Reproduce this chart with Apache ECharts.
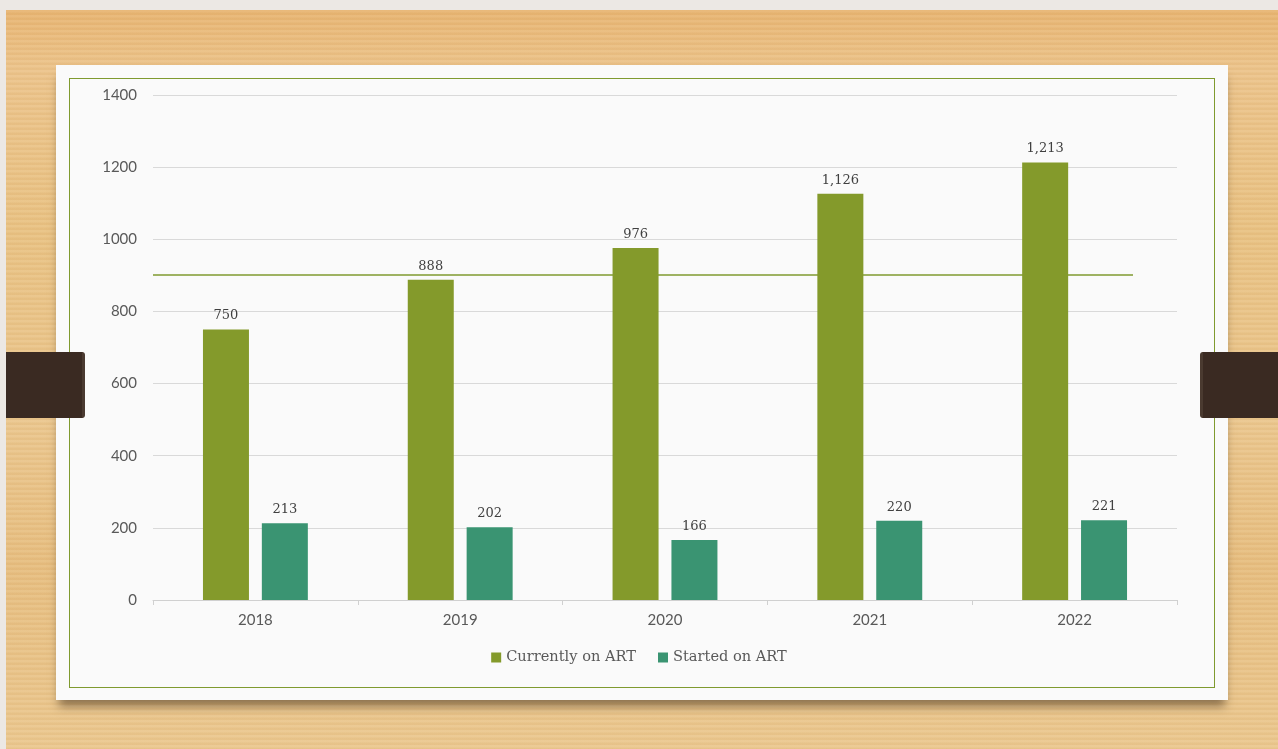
<!DOCTYPE html>
<html>
<head>
<meta charset="utf-8">
<script src="https://cdn.jsdelivr.net/npm/echarts@6/dist/echarts.min.js"></script>
<style>
  html, body { margin: 0; padding: 0; width: 1278px; height: 749px; overflow: hidden; }
  body {
    position: relative;
    background: #ece8e4;
  }
  .wood {
    position: absolute; left: 6px; top: 10px; right: 0; bottom: 0;
    background:
      repeating-linear-gradient(180deg, rgba(255,255,255,0.06) 0px, rgba(255,255,255,0.06) 2px, rgba(160,100,40,0.05) 3px, rgba(160,100,40,0.05) 5px),
      linear-gradient(180deg, #e8b572 0%, #ecc48b 8%, #e9c283 30%, #ebc78e 55%, #e7be80 75%, #ebc88f 100%);
  }
  .card {
    position: absolute; left: 56px; top: 65px; width: 1172px; height: 635px;
    background: #fafafa;
    box-shadow: 0 9px 9px -3px rgba(60,40,20,0.55);
  }
  .frame {
    position: absolute; left: 69px; top: 78px; width: 1144px; height: 608px;
    border: 1.5px solid #7f9a2f;
  }
  .tab {
    position: absolute; top: 352px; height: 66px; width: 76px;
    background: #3a2a22;
  }
  .tab.left { left: 6px; border-right: 3px solid #4a3a30; border-radius: 0 3px 3px 0; }
  .tab.right { left: 1200px; border-left: 3px solid #4a3a30; border-radius: 3px 0 0 3px; }
  #chart { position: absolute; left: 0; top: 0; width: 1278px; height: 749px; }
</style>
</head>
<body>
<div class="wood"></div>
<div class="card"></div>
<div class="frame"></div>
<div class="tab left"></div>
<div class="tab right"></div>
<div id="chart"></div>
<script>
// Patients on antiretroviral therapy by year
const years = ['2018', '2019', '2020', '2021', '2022'];
const currentlyOnArt = [750, 888, 976, 1126, 1213];
const startedOnArt = [213, 202, 166, 220, 221];
const seriesNames = ['Currently on ART', 'Started on ART'];

const serifFont = '"DejaVu Serif", "Liberation Serif", serif';
const sansFont = 'Lato, "Open Sans", sans-serif';

const chart = echarts.init(document.getElementById('chart'), null, { renderer: 'canvas' });

const labelStyle = {
  show: true,
  position: 'top',
  distance: 7,
  fontFamily: serifFont,
  fontSize: 13,
  color: '#404040',
  formatter: p => p.value.toLocaleString('en-US')
};

chart.setOption({
  backgroundColor: 'transparent',
  animation: false,
  grid: { left: 153, right: 101, top: 95, bottom: 149, containLabel: false },
  legend: {
    data: seriesNames,
    bottom: 79,
    left: 'center',
    itemWidth: 10,
    itemHeight: 10,
    itemGap: 22,
    icon: 'rect',
    textStyle: { fontFamily: serifFont, fontSize: 14.6, color: '#595959' }
  },
  xAxis: {
    type: 'category',
    data: years,
    axisLine: { lineStyle: { color: '#d0d0d0' } },
    axisTick: { show: true, length: 5, lineStyle: { color: '#d0d0d0' } },
    axisLabel: { fontFamily: sansFont, fontSize: 15, color: '#595959', margin: 13 }
  },
  yAxis: {
    type: 'value',
    min: 0,
    max: 1400,
    interval: 200,
    axisLine: { show: false },
    axisTick: { show: false },
    axisLabel: { fontFamily: sansFont, fontSize: 15, color: '#595959', margin: 16, formatter: v => String(v) },
    splitLine: { lineStyle: { color: '#d9d9d9' } }
  },
  series: [
    {
      name: seriesNames[0],
      type: 'bar',
      data: currentlyOnArt,
      barWidth: 46,
      barGap: '28%',
      itemStyle: { color: '#849a2b' },
      label: labelStyle
    },
    {
      name: seriesNames[1],
      type: 'bar',
      data: startedOnArt,
      barWidth: 46,
      itemStyle: { color: '#3a9472' },
      label: labelStyle
    }
  ],
  graphic: [
    {
      type: 'line',
      z: 0,
      shape: { x1: 153, y1: 275, x2: 1133, y2: 275 },
      style: { stroke: '#7f9a2f', lineWidth: 1.5 }
    }
  ]
});
</script>
</body>
</html>
